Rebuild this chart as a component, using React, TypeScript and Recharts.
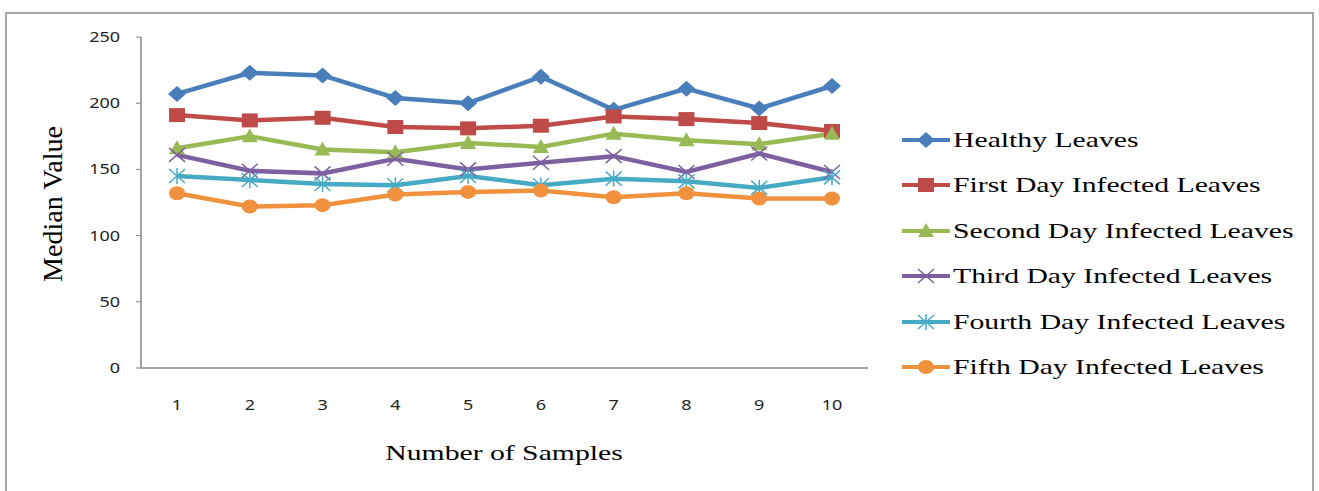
import React from "react";
import { LineChart, Line, XAxis, YAxis, Legend } from "recharts";

const samples = [1, 2, 3, 4, 5, 6, 7, 8, 9, 10];
const healthy = [207, 223, 221, 204, 200, 220, 195, 211, 196, 213];
const firstDay = [191, 187, 189, 182, 181, 183, 190, 188, 185, 179];
const secondDay = [166, 175, 165, 163, 170, 167, 177, 172, 169, 177];
const thirdDay = [161, 149, 147, 158, 150, 155, 160, 148, 162, 148];
const fourthDay = [145, 142, 139, 138, 145, 138, 143, 141, 136, 144];
const fifthDay = [132, 122, 123, 131, 133, 134, 129, 132, 128, 128];
const yTicks = [0, 50, 100, 150, 200, 250];

type Shape = "diamond" | "square" | "triangle" | "x" | "star" | "circle";

const series: { key: string; name: string; color: string; shape: Shape; values: number[] }[] = [
    { key: "healthy", name: "Healthy Leaves", color: "#4a7ebb", shape: "diamond", values: healthy },
    { key: "first", name: "First Day Infected Leaves", color: "#be4b48", shape: "square", values: firstDay },
    { key: "second", name: "Second Day Infected Leaves", color: "#98b954", shape: "triangle", values: secondDay },
    { key: "third", name: "Third Day Infected Leaves", color: "#7d60a0", shape: "x", values: thirdDay },
    { key: "fourth", name: "Fourth Day Infected Leaves", color: "#46aac5", shape: "star", values: fourthDay },
    { key: "fifth", name: "Fifth Day Infected Leaves", color: "#f0913e", shape: "circle", values: fifthDay },
];

const data = samples.map((s, i) => {
    const row: Record<string, number> = { sample: s };
    series.forEach((ser) => {
        row[ser.key] = ser.values[i];
    });
    return row;
});

// the source picture is stretched sideways, so text is widened to match
const STRETCH = 1.35;
const serif = "'Liberation Serif', 'Times New Roman', serif";
const sans = "'Noto Sans', sans-serif";

function Marker({ cx, cy, color, shape }: { cx: number; cy: number; color: string; shape: Shape }) {
    if (cx == null || cy == null) return null;
    switch (shape) {
        case "diamond":
            return <polygon points={`${cx},${cy - 8} ${cx + 9},${cy} ${cx},${cy + 8} ${cx - 9},${cy}`} fill={color} />;
        case "square":
            return <rect x={cx - 8} y={cy - 7} width={16} height={14} fill={color} />;
        case "triangle":
            return <polygon points={`${cx},${cy - 8} ${cx + 8},${cy + 6} ${cx - 8},${cy + 6}`} fill={color} />;
        case "x":
            return (
                <g stroke={color} strokeWidth={1.5}>
                    <line x1={cx - 8} y1={cy - 7} x2={cx + 8} y2={cy + 7} />
                    <line x1={cx - 8} y1={cy + 7} x2={cx + 8} y2={cy - 7} />
                </g>
            );
        case "star":
            return (
                <g stroke={color} strokeWidth={1.5}>
                    <line x1={cx - 8} y1={cy - 7} x2={cx + 8} y2={cy + 7} />
                    <line x1={cx - 8} y1={cy + 7} x2={cx + 8} y2={cy - 7} />
                    <line x1={cx} y1={cy - 8} x2={cx} y2={cy + 8} />
                </g>
            );
        default:
            return <ellipse cx={cx} cy={cy} rx={8} ry={7} fill={color} />;
    }
}

function XTick({ x, y, payload }: any) {
    return (
        <text
            transform={`translate(${x},${y + 24}) scale(1.2,1)`}
            textAnchor="middle"
            fontFamily={sans}
            fontSize={15}
            fill="#222"
        >
            {payload.value}
        </text>
    );
}

function YTick({ x, y, payload }: any) {
    return (
        <text
            transform={`translate(${x},${y + 5}) scale(1.2,1)`}
            textAnchor="end"
            fontFamily={sans}
            fontSize={15}
            fill="#222"
        >
            {payload.value}
        </text>
    );
}

function LegendContent() {
    return (
        <div style={{ fontFamily: serif, fontSize: 22, color: "#000", whiteSpace: "nowrap" }}>
            {series.map((s) => (
                <div key={s.key} style={{ display: "flex", alignItems: "center", height: 45.5 }}>
                    <svg width={50} height={20} style={{ marginRight: 1, flex: "none" }}>
                        <line x1={0} y1={10} x2={48} y2={10} stroke={s.color} strokeWidth={4} />
                        <Marker cx={24} cy={10} color={s.color} shape={s.shape} />
                    </svg>
                    <span style={{ display: "inline-block", transform: `scaleX(${STRETCH})`, transformOrigin: "left center" }}>
                        {s.name}
                    </span>
                </div>
            ))}
        </div>
    );
}

export default function App() {
    return (
        <div style={{ position: "absolute", left: 0, top: 0, width: 1319, height: 491, background: "#fff", overflow: "hidden" }}>
            <div
                style={{
                    position: "absolute",
                    left: 5,
                    top: 12,
                    width: 1309,
                    height: 500,
                    border: "2px solid #a6a6a6",
                    boxSizing: "border-box",
                }}
            />
            <LineChart
                width={1319}
                height={491}
                data={data}
                margin={{ top: 37, right: 451, bottom: 83, left: 61 }}
            >
                <XAxis
                    dataKey="sample"
                    height={40}
                    padding={{ left: 36, right: 36 }}
                    axisLine={{ stroke: "#868686", strokeWidth: 1.5 }}
                    tickLine={false}
                    tickSize={0}
                    tickMargin={18}
                    tick={<XTick />}
                    label={{
                        position: "insideBottom",
                        content: () => (
                            <text
                                transform={`translate(504,460) scale(${STRETCH},1)`}
                                textAnchor="middle"
                                fontFamily={serif}
                                fontSize={22}
                                fill="#000"
                            >
                                Number of Samples
                            </text>
                        ),
                    }}
                />
                <YAxis
                    width={80}
                    domain={[0, 250]}
                    ticks={yTicks}
                    axisLine={{ stroke: "#868686", strokeWidth: 1.5 }}
                    tickLine={{ stroke: "#868686" }}
                    tickSize={5}
                    tickMargin={16}
                    tick={<YTick />}
                    label={{
                        position: "insideLeft",
                        content: () => (
                            <text
                                transform="translate(62,204) rotate(-90)"
                                textAnchor="middle"
                                fontFamily={serif}
                                fontSize={28}
                                fill="#000"
                            >
                                Median Value
                            </text>
                        ),
                    }}
                />
                <Legend
                    layout="vertical"
                    align="center"
                    verticalAlign="middle"
                    content={() => <LegendContent />}
                    wrapperStyle={{ left: 902, top: 117, width: 410 }}
                />
                {series.map((s) => (
                    <Line
                        key={s.key}
                        dataKey={s.key}
                        name={s.name}
                        stroke={s.color}
                        strokeWidth={4.5}
                        isAnimationActive={false}
                        dot={(p: any) => <Marker key={`${s.key}-${p.index}`} cx={p.cx} cy={p.cy} color={s.color} shape={s.shape} />}
                        activeDot={false}
                    />
                ))}
            </LineChart>
        </div>
    );
}
